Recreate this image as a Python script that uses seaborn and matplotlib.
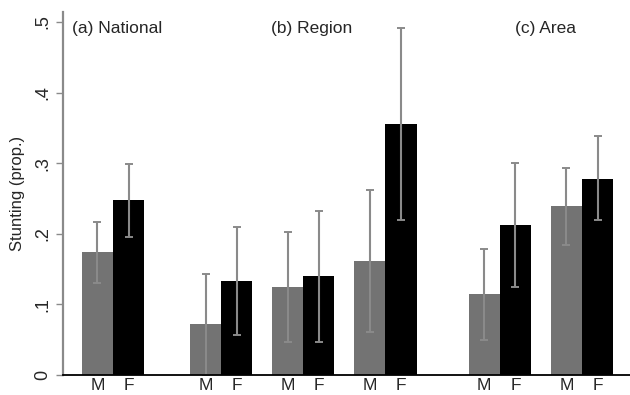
import numpy as np
import pandas as pd
import matplotlib
matplotlib.use("Agg")
import matplotlib.pyplot as plt
import seaborn as sns

# values (proportion stunted, with 95% CI)
panel = ["National", "Region", "Region", "Region", "Area", "Area"]
panel_titles = {"National": "(a) National", "Region": "(b) Region", "Area": "(c) Area"}
sexes = ["M", "F"]
male = [0.174, 0.072, 0.125, 0.161, 0.115, 0.239]
male_lo = [0.131, 0.000, 0.047, 0.061, 0.050, 0.184]
male_hi = [0.217, 0.143, 0.202, 0.262, 0.179, 0.293]
female = [0.248, 0.133, 0.140, 0.355, 0.212, 0.278]
female_lo = [0.195, 0.057, 0.047, 0.219, 0.124, 0.219]
female_hi = [0.299, 0.209, 0.233, 0.492, 0.300, 0.338]
yticks = [0, 0.1, 0.2, 0.3, 0.4, 0.5]
ytick_labels = ["0", ".1", ".2", ".3", ".4", ".5"]

# layout: one unit = one bar width
start = 0.61
pair_gap = 0.63
group_gaps = [1.47, 1.67]
title_nudge = {"National": 0.12, "Region": 0.27, "Area": 0.15}

lefts = []
x = start
g = 0
for i, p in enumerate(panel):
    if i > 0:
        if p != panel[i - 1]:
            x += 2 + group_gaps[g]
            g += 1
        else:
            x += 2 + pair_gap
    lefts.append(x)
lefts = np.array(lefts)

rows = []
for i in range(len(panel)):
    rows.append(dict(pos=lefts[i] + 0.5, sex="M", value=male[i], lo=male_lo[i], hi=male_hi[i], panel=panel[i]))
    rows.append(dict(pos=lefts[i] + 1.5, sex="F", value=female[i], lo=female_lo[i], hi=female_hi[i], panel=panel[i]))
df = pd.DataFrame(rows)

sns.set_style("white")
plt.rcParams["font.family"] = ["Liberation Sans", "DejaVu Sans"]

fig = plt.figure(figsize=(6.3, 3.95), dpi=100)
ax = fig.add_axes([0.0995, 0.0506, 0.9005, 0.9197])

sns.barplot(data=df, x="pos", y="value", hue="sex", native_scale=True,
            dodge=False, width=1.0, errorbar=None, legend=False,
            palette={"M": "#737373", "F": "#000000"}, saturation=1,
            linewidth=0, ax=ax)

ax.errorbar(df["pos"], df["value"],
            yerr=[df["value"] - df["lo"], df["hi"] - df["value"]],
            fmt="none", ecolor="#8a8a8a", elinewidth=1.5, capsize=2.6, capthick=1.4)

# panel titles centred over their groups
for p, title in panel_titles.items():
    sub = df[df["panel"] == p]
    cx = (sub["pos"].min() + sub["pos"].max()) / 2
    ax.text(cx + title_nudge[p], 0.491, title, ha="center", va="center", fontsize=12.5)

ax.set_xlim(0, 18.18)
ax.set_ylim(0, 0.5146)
ax.set_xticks(df["pos"])
ax.set_xticklabels(df["sex"], fontsize=12.5)
ax.tick_params(axis="x", length=0, pad=2)
ax.set_yticks(yticks)
ax.set_yticklabels(ytick_labels, rotation=90, va="center", fontsize=13)
ax.tick_params(axis="y", length=5, width=1, color="#8a8a8a", pad=3, left=True)
ax.set_xlabel("")
ax.set_ylabel("Stunting (prop.)", fontsize=12, labelpad=7)

for s in ["top", "right"]:
    ax.spines[s].set_visible(False)
ax.spines["left"].set_color("#8a8a8a")
ax.spines["left"].set_linewidth(1.6)
ax.spines["bottom"].set_color("black")
ax.spines["bottom"].set_linewidth(1.3)

fig.savefig("out.png", dpi=100)
